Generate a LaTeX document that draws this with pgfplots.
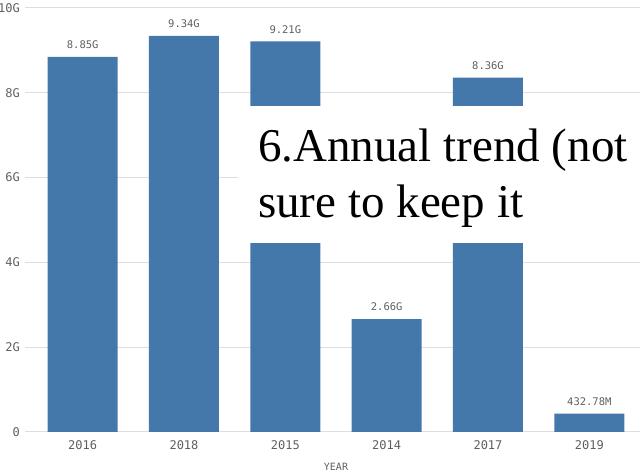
\documentclass[border=0pt]{standalone}
\usepackage{pgfplots}
\pgfplotsset{compat=1.18}
\usepackage{pgfplotstable}
\usepackage{fontspec}
\newfontfamily\mono{DejaVu Sans Mono}
\newfontfamily\tnr{Liberation Serif}
\definecolor{barblue}{RGB}{68,119,170}
\definecolor{lbl}{RGB}{95,95,95}
\definecolor{gridc}{RGB}{222,222,222}
\pgfplotstableread{
x y label
0 8.85 8.85G
1 9.34 9.34G
2 9.21 9.21G
3 2.66 2.66G
4 8.36 8.36G
5 0.43278 432.78M
}\datatable
\begin{document}
\begin{tikzpicture}[x=1pt,y=1pt]
\begin{axis}[
 at={(32pt,44pt)}, anchor=south west,
 scale only axis, width=608pt, height=424pt,
 xmin=-0.5, xmax=5.5, ymin=0, ymax=10,
 axis line style={draw=none},
 xtick={0,...,5}, xticklabels={2016,2018,2015,2014,2017,2019},
 ytick={0,2,...,10}, yticklabels={0,2G,4G,6G,8G,10G},
 xtick style={draw=none},
 ytick style={draw=gridc, line width=1pt},
 tick align=outside, major tick length=7pt,
 ymajorgrids, grid style={gridc, line width=1pt},
 ticklabel style={font=\mono\fontsize{12}{14}\selectfont, text=lbl},
 /pgf/number format/assume math mode=true,
 xticklabel style={inner sep=0pt, anchor=north, yshift=-1pt},
 yticklabel style={inner sep=0pt, anchor=east, xshift=-5pt},
 xlabel={YEAR},
 xlabel style={font=\mono\fontsize{10}{12}\selectfont, text=lbl, at={(axis description cs:0.5,0)}, anchor=center, yshift=-35pt},
 ybar, bar width=70pt,
 nodes near coords, point meta=explicit symbolic,
 nodes near coords style={font=\mono\fontsize{10.5}{12}\selectfont, text=lbl, inner sep=0pt, anchor=south, yshift=8pt},
 clip=false,
]
\addplot[fill=barblue, draw=none] table[x=x,y=y,meta=label]{\datatable};
\end{axis}
\fill[white] (238,233) rectangle (642,370);
\node[anchor=base west, inner sep=0pt, font=\tnr\fontsize{47}{56}\selectfont] at (258,314) {6.Annual trend (not};
\node[anchor=base west, inner sep=0pt, font=\tnr\fontsize{47}{56}\selectfont] at (258,258) {sure to keep it};
\pgfresetboundingbox
\useasboundingbox (0,0) rectangle (640,476);
\end{tikzpicture}
\end{document}
